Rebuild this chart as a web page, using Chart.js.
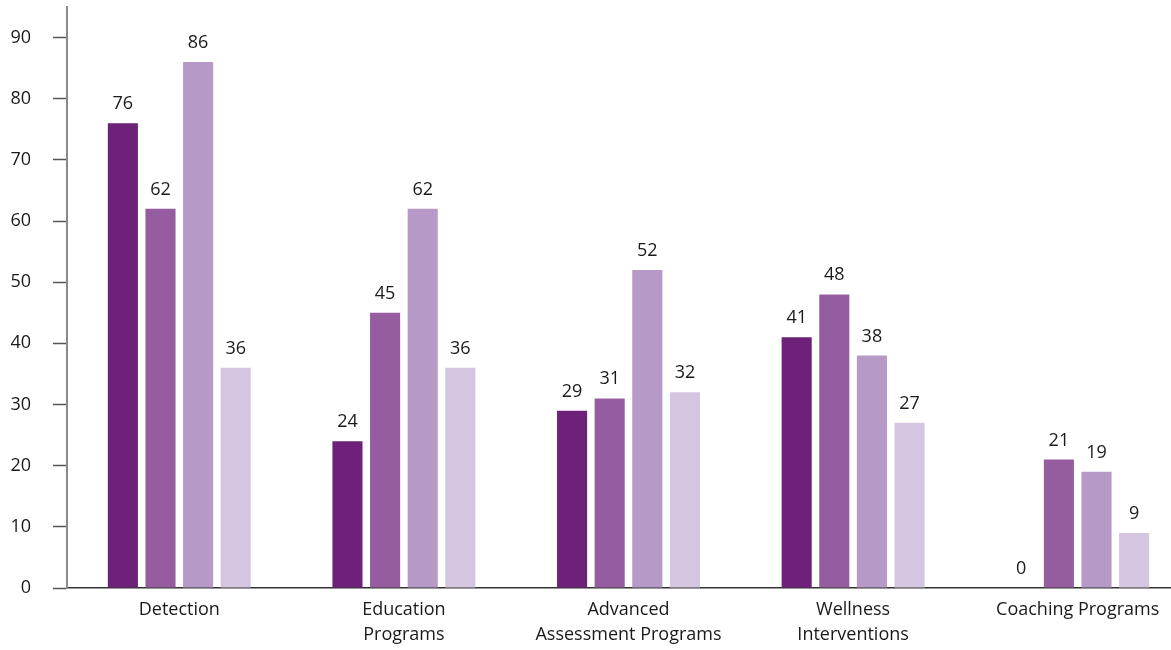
<!DOCTYPE html>
<html>
<head>
<meta charset="utf-8">
<script src="https://cdn.jsdelivr.net/npm/chart.js@4/dist/chart.umd.min.js"></script>
<style>
  html, body { margin: 0; padding: 0; background: #fff; overflow: hidden; }
  #wrap { width: 1190px; height: 650px; }
</style>
</head>
<body>
<div id="wrap"><canvas id="chart"></canvas></div>
<script>
// categories (multi-line labels as arrays)
const categories = [
  ['Detection'],
  ['Education', 'Programs'],
  ['Advanced', 'Assessment Programs'],
  ['Wellness', 'Interventions'],
  ['Coaching Programs']
];

// four series, one bar per category each
const series1 = [76, 24, 29, 41, 0];
const series2 = [62, 45, 31, 48, 21];
const series3 = [86, 62, 52, 38, 19];
const series4 = [36, 36, 32, 27, 9];

const colors = ['#6e2179', '#955d9f', '#b699c6', '#d4c5e0'];
const yTicks = [0, 10, 20, 30, 40, 50, 60, 70, 80, 90];

const fontFamily = '"Open Sans", "Noto Sans", sans-serif';
Chart.defaults.font.family = fontFamily;
Chart.defaults.color = '#1a1a1a';

// draws the value above every bar
const valueLabels = {
  id: 'valueLabels',
  afterDatasetsDraw(chart) {
    const ctx = chart.ctx;
    ctx.save();
    ctx.font = '18px ' + fontFamily;
    ctx.fillStyle = '#1a1a1a';
    ctx.textAlign = 'center';
    ctx.textBaseline = 'alphabetic';
    chart.data.datasets.forEach((ds, i) => {
      chart.getDatasetMeta(i).data.forEach((bar, j) => {
        ctx.fillText(String(ds.data[j]), bar.x, bar.y - 14);
      });
    });
    ctx.restore();
  }
};

new Chart(document.getElementById('chart'), {
  type: 'bar',
  data: {
    labels: categories,
    datasets: [series1, series2, series3, series4].map((d, i) => ({
      label: 'Series ' + (i + 1),
      data: d,
      backgroundColor: colors[i],
      borderWidth: 0,
      barPercentage: 0.8,
      categoryPercentage: 0.67
    }))
  },
  options: {
    responsive: true,
    maintainAspectRatio: false,
    animation: false,
    layout: { padding: { top: 7, left: 0, right: 0, bottom: 0 } },
    plugins: {
      legend: { display: false },
      tooltip: { enabled: false }
    },
    scales: {
      x: {
        grid: { display: false, drawTicks: false },
        border: { display: true, color: '#333', width: 1.5 },
        ticks: {
          padding: 9,
          maxRotation: 0,
          autoSkip: false,
          font: { size: 18, lineHeight: 1.39 },
          color: '#1a1a1a'
        },
        afterFit(scale) {
          scale.height = 62;
          scale.paddingLeft = 0;
          scale.paddingRight = 0;
        }
      },
      y: {
        min: 0,
        max: 95,
        afterBuildTicks(scale) {
          scale.ticks = yTicks.map(v => ({ value: v }));
        },
        grid: {
          drawOnChartArea: false,
          drawTicks: true,
          tickLength: 14,
          tickColor: '#555',
          tickWidth: 1.5
        },
        border: { display: true, color: '#8a8a8a', width: 2 },
        ticks: {
          padding: 22,
          font: { size: 18 },
          color: '#1a1a1a'
        },
        afterFit(scale) {
          scale.width = 67;
          scale.paddingTop = 0;
          scale.paddingBottom = 0;
        }
      }
    }
  },
  plugins: [valueLabels]
});
</script>
</body>
</html>
